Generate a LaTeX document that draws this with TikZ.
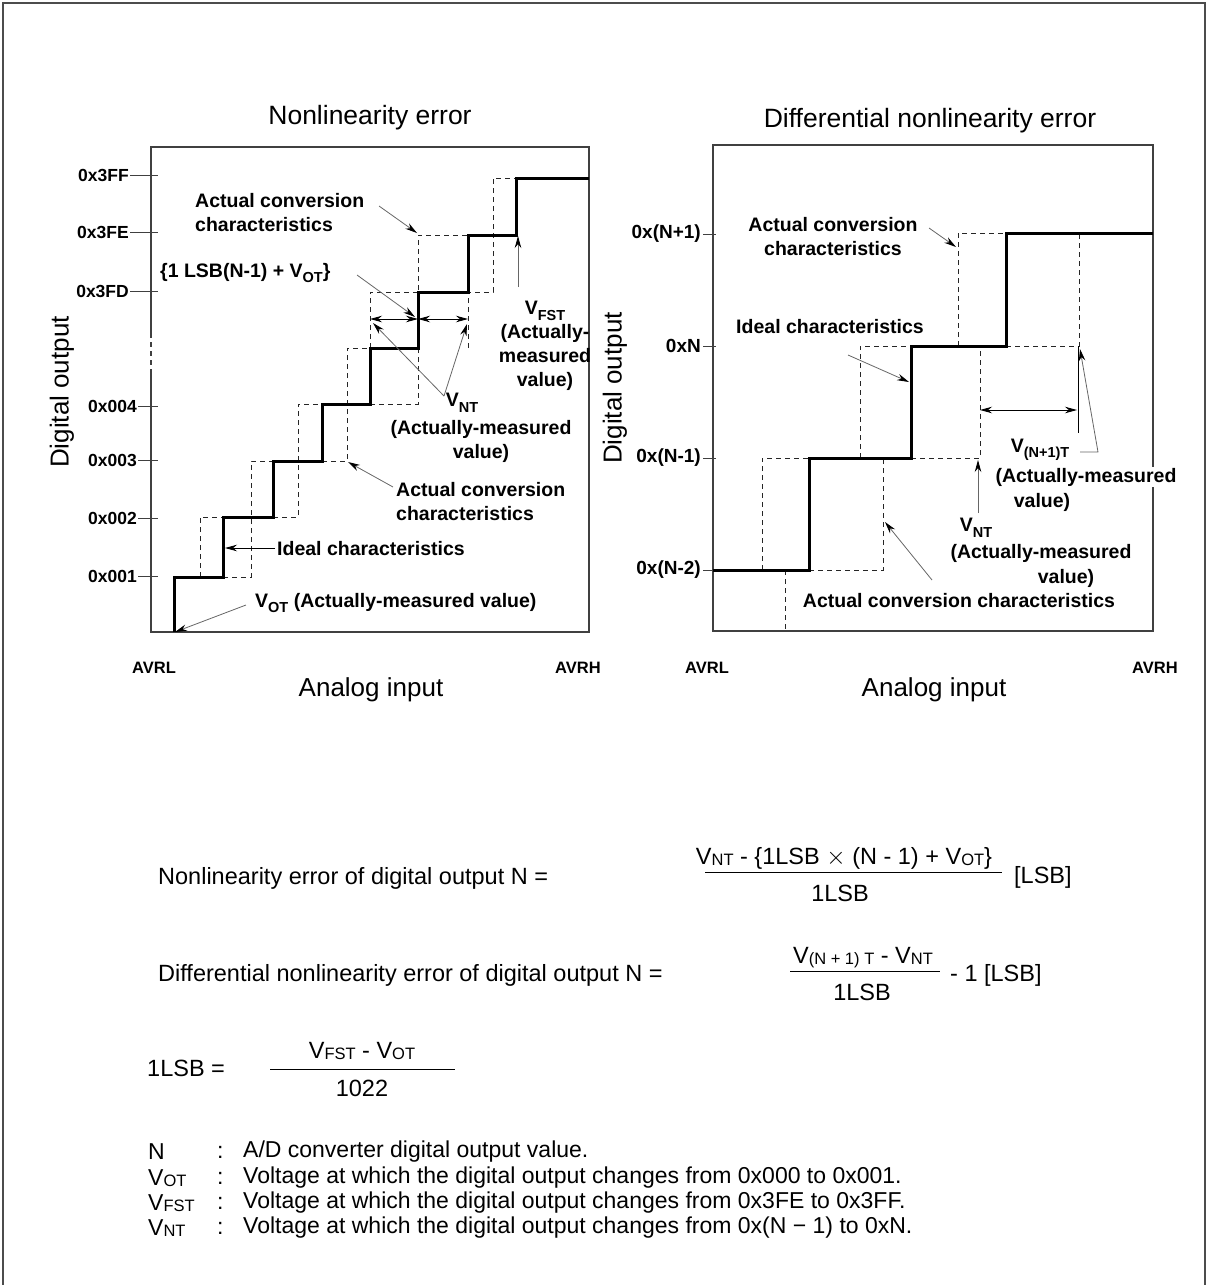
\documentclass[tikz,border=0pt]{standalone}
\usepackage{fontspec}
\setmainfont{Liberation Sans}
\usetikzlibrary{arrows.meta}
\newcommand\csub[1]{\raisebox{-0.28em}{\fontsize{14.5}{14.5}\selectfont #1}}
\newcommand\fsub[1]{\raisebox{-0.04em}{\fontsize{16.5}{16.5}\selectfont #1}}
\begin{document}
\begin{tikzpicture}[x=1pt,y=-1pt,
  lbl/.style={font=\fontsize{19.5}{24}\selectfont\bfseries, inner sep=0pt},
  tk/.style={font=\fontsize{17.5}{18}\selectfont\bfseries, inner sep=0pt, anchor=east},
  tkr/.style={font=\fontsize{19}{20}\selectfont\bfseries, inner sep=0pt, anchor=east},
  avr/.style={font=\fontsize{16.5}{18}\selectfont\bfseries, inner sep=0pt},
  axl/.style={font=\fontsize{26}{28}\selectfont, inner sep=0pt},
  ttl/.style={font=\fontsize{26.5}{28}\selectfont, inner sep=0pt},
  frm/.style={font=\fontsize{23.5}{25}\selectfont, inner sep=0pt},
  dfn/.style={font=\fontsize{23}{25}\selectfont, inner sep=0pt, anchor=west},
  boxl/.style={line width=1.1pt, draw=black!75},
  stairs/.style={line width=3pt, line join=miter},
  dsh/.style={line width=0.9pt, draw=black!85, dash pattern=on 5pt off 4pt},
  ptr/.style={line width=0.8pt, draw=black!60, -{Stealth[length=12pt,width=6.5pt,color=black]}},
  dbl/.style={line width=0.9pt, {Stealth[length=12pt,width=6.5pt]}-{Stealth[length=12pt,width=6.5pt]}},
  fline/.style={line width=1pt}
]
\useasboundingbox (0,0) rectangle (1208,1285);
% outer frame
\draw[line width=1.2pt, draw=black!70] (3,1285) -- (3,3) -- (1205,3) -- (1205,1285);

% ================= LEFT CHART =================
\node[ttl] (t1) at (370,118) {Nonlinearity error};
\draw[boxl] (151,373) -- (151,632) -- (589,632) -- (589,147) -- (151,147) -- (151,333);
\draw[boxl, dash pattern=on 5pt off 4pt] (151,333) -- (151,373);
% ticks
\foreach \yy/\tx/\rx in {175/0x3FF/130, 232/0x3FE/130, 291/0x3FD/130, 406/0x004/138, 460/0x003/138, 518/0x002/138, 576/0x001/138}{
  \draw[line width=0.9pt, draw=black!75] (\rx,\yy) -- (158,\yy);
  \node[tk] at (\rx-1,\yy) {\tx};
}
\node[axl, rotate=90] (dol) at (62,392) {Digital output};
\node[avr] (avrl1) at (154,668) {AVRL};
\node[avr] (avrh1) at (578,668) {AVRH};
\node[axl] (ai1) at (371,690) {Analog input};

% dashed actual characteristics
\draw[dsh] (200,577) -- (200,517) -- (223,517);
\draw[dsh] (223,577) -- (251,577) -- (251,461) -- (273,461);
\draw[dsh] (273,517) -- (298,517) -- (298,404) -- (322,404);
\draw[dsh] (322,461) -- (347,461) -- (347,348) -- (370,348);
\draw[dsh] (370,404) -- (418,404) -- (418,235) -- (468,235);
\draw[dsh] (370,348) -- (370,292) -- (418,292);
\draw[dsh] (468,348) -- (468,292) -- (493,292) -- (493,178) -- (516,178);
% ideal staircase
\draw[stairs] (174,632) -- (174,577) -- (223,577) -- (223,517) -- (273,517) -- (273,461) -- (322,461) -- (322,404) -- (370,404) -- (370,348) -- (418,348) -- (418,292) -- (468,292) -- (468,235) -- (516,235) -- (516,178) -- (589,178);

% named target coordinates
\coordinate (a1) at (370,319);
\coordinate (a2) at (418,319);
\coordinate (a3) at (468,319);
\draw[dbl] (a1) -- (a2);
\draw[dbl] (a2) -- (a3);

% labels left
\node[lbl, anchor=west, align=left] (acc1) at (195,213) {Actual conversion\\characteristics};
\coordinate (acc1s) at (379,206);
\coordinate (acc1t) at (417,233);
\draw[ptr] (acc1s) -- (acc1t);

\node[lbl, anchor=west] (lsb1) at (160,273) {\{1 LSB(N-1) + V\csub{OT}\}};
\coordinate (lsb1s) at (357,275);
\coordinate (lsb1t) at (415,317);
\draw[ptr] (lsb1s) -- (lsb1t);

\node[lbl, align=center] (vfst) at (545,346) {V\csub{FST}\\(Actually-\\measured\\value)};
\coordinate (vfsts) at (518,287);
\coordinate (vfstt) at (518,236);
\draw[ptr] (vfsts) -- (vfstt);

\node[lbl] (vnt1) at (462,403) {V\csub{NT}};
\node[lbl, align=center] (vnt1m) at (481,441) {(Actually-measured\\value)};
\coordinate (vnt1o) at (444,396);
\coordinate (vnt1a) at (373,323);
\coordinate (vnt1b) at (467,324);
\draw[ptr] (vnt1o) -- (vnt1a);
\draw[ptr] (vnt1o) -- (vnt1b);

\node[lbl, anchor=west, align=left] (acc2) at (396,502) {Actual conversion\\characteristics};
\coordinate (acc2s) at (393,487);
\coordinate (acc2t) at (348,462);
\draw[ptr] (acc2s) -- (acc2t);

\node[lbl, anchor=west] (ideal1) at (277,549) {Ideal characteristics};
\coordinate (ideal1s) at (275,548);
\coordinate (ideal1t) at (225,548);
\draw[line width=0.8pt, -{Stealth[length=12pt,width=6.5pt]}] (ideal1s) -- (ideal1t);

\node[lbl, anchor=west] (vot) at (255,603) {V\csub{OT} (Actually-measured value)};
\coordinate (vots) at (246,605);
\coordinate (vott) at (175,632);
\draw[ptr] (vots) -- (vott);

% ================= RIGHT CHART =================
\node[ttl] (t2) at (930,121) {Differential nonlinearity error};
\draw[boxl] (713,145) rectangle (1153,631);
\foreach \yy/\tx in {234/0x(N+1), 346/0xN, 458/0x(N-1), 570/0x(N-2)}{
  \draw[line width=0.9pt, draw=black!75] (703,\yy) -- (716,\yy);
  \node[tkr] at (701,\yy) {\tx};
}
\node[axl, rotate=90] (dor) at (615,388) {Digital output};
\node[avr] (avrl2) at (707,668) {AVRL};
\node[avr] (avrh2) at (1155,668) {AVRH};
\node[axl] (ai2) at (934,690) {Analog input};

\draw[dsh] (762,570) -- (762,458) -- (809,458);
\draw[dsh] (785,570) -- (785,631);
\draw[dsh] (809,570) -- (883,570) -- (883,458);
\draw[dsh] (860,458) -- (860,346) -- (911,346);
\draw[dsh] (911,458) -- (980,458) -- (980,346);
\draw[dsh] (958,346) -- (958,233) -- (1006,233);
\draw[dsh] (1006,346) -- (1079,346) -- (1079,233);
\draw[stairs] (713,570) -- (809,570) -- (809,458) -- (911,458) -- (911,346) -- (1006,346) -- (1006,233) -- (1153,233);

\draw[line width=0.8pt] (1078,346) -- (1078,433);
\coordinate (b1) at (980,410);
\coordinate (b2) at (1077,410);
\draw[dbl] (b1) -- (b2);

\node[lbl, align=center] (acc3) at (833,237) {Actual conversion\\characteristics};
\coordinate (acc3s) at (929,228);
\coordinate (acc3t) at (956,247);
\draw[ptr] (acc3s) -- (acc3t);

\node[lbl] (ideal2) at (830,327) {Ideal characteristics};
\coordinate (ideal2s) at (848,355);
\coordinate (ideal2t) at (909,382);
\draw[ptr] (ideal2s) -- (ideal2t);

\node[lbl] (vn1) at (1040,450) {V\csub{(N+1)T}};
\node[lbl, fill=white, inner sep=1pt] (vn1m) at (1086,477) {(Actually-measured};
\node[lbl] (vn1v) at (1042,502) {value)};
\coordinate (vn1s) at (1080,452);
\coordinate (vn1k) at (1098,452);
\coordinate (vn1t) at (1080,349);
\draw[ptr] (vn1s) -- (vn1k) -- (vn1t);

\node[lbl] (vnt2) at (976,528) {V\csub{NT}};
\node[lbl] (vnt2m) at (1041,553) {(Actually-measured};
\node[lbl] (vnt2v) at (1066,578) {value)};
\coordinate (vnt2s) at (978,513);
\coordinate (vnt2t) at (978,460);
\draw[ptr] (vnt2s) -- (vnt2t);

\node[lbl] (acc4) at (959,601) {Actual conversion characteristics};
\coordinate (acc4s) at (932,580);
\coordinate (acc4t) at (885,522);
\draw[ptr] (acc4s) -- (acc4t);

% ================= FORMULAS =================
\node[frm, anchor=west] (f1l) at (158,878) {Nonlinearity error of digital output N =};
\node[frm] (f1n) at (844,858) {V\fsub{NT} - \{1LSB $\times$ (N - 1) + V\fsub{OT}\}};
\coordinate (f1a) at (705,872);
\coordinate (f1b) at (1002,872);
\draw[fline] (f1a) -- (f1b);
\node[frm] (f1d) at (840,893) {1LSB};
\node[frm, anchor=west] (f1u) at (1014,877) {[LSB]};

\node[frm, anchor=west] (f2l) at (158,975) {Differential nonlinearity error of digital output N =};
\node[frm] (f2n) at (863,958) {V\fsub{(N + 1) T} - V\fsub{NT}};
\coordinate (f2a) at (790,971);
\coordinate (f2b) at (940,971);
\draw[fline] (f2a) -- (f2b);
\node[frm] (f2d) at (862,992) {1LSB};
\node[frm, anchor=west] (f2u) at (950,975) {- 1 [LSB]};

\node[frm, anchor=west] (f3l) at (147,1068) {1LSB =};
\node[frm] (f3n) at (362,1051) {V\fsub{FST} - V\fsub{OT}};
\coordinate (f3a) at (270,1069);
\coordinate (f3b) at (455,1069);
\draw[fline] (f3a) -- (f3b);
\node[frm] (f3d) at (362,1088) {1022};

\node[dfn] (d1a) at (148,1152) {N};
\node[dfn] (d1b) at (217,1152) {:};
\node[dfn] (d1c) at (243,1152) {A/D converter digital output value.};
\node[dfn] (d2a) at (148,1178) {V\fsub{OT}};
\node[dfn] (d2b) at (217,1178) {:};
\node[dfn] (d2c) at (243,1178) {Voltage at which the digital output changes from 0x000 to 0x001.};
\node[dfn] (d3a) at (148,1203) {V\fsub{FST}};
\node[dfn] (d3b) at (217,1203) {:};
\node[dfn] (d3c) at (243,1203) {Voltage at which the digital output changes from 0x3FE to 0x3FF.};
\node[dfn] (d4a) at (148,1228) {V\fsub{NT}};
\node[dfn] (d4b) at (217,1228) {:};
\node[dfn] (d4c) at (243,1228) {Voltage at which the digital output changes from 0x(N − 1) to 0xN.};
\end{tikzpicture}
\end{document}
